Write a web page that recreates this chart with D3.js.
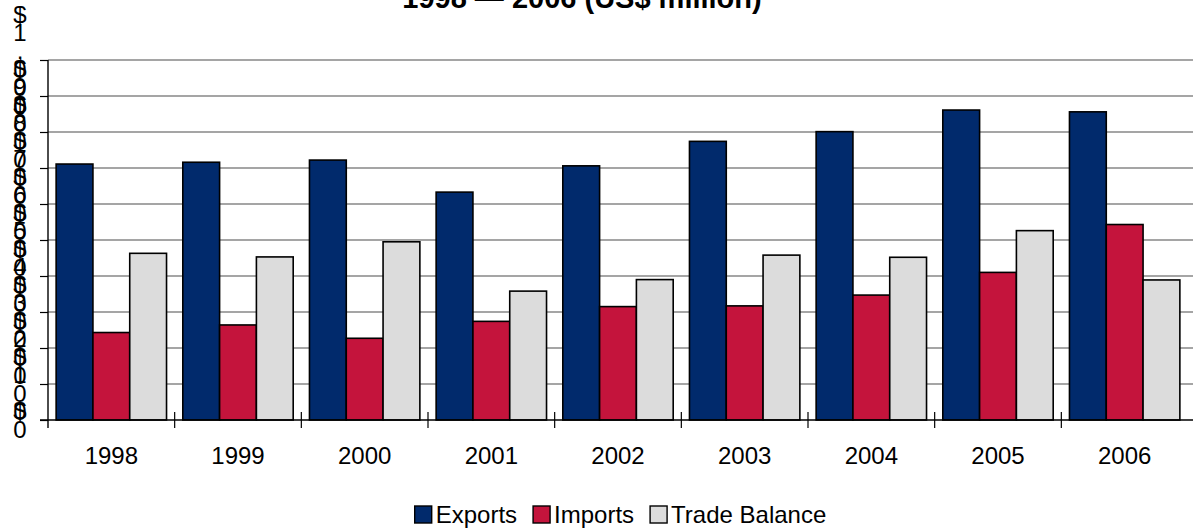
<!DOCTYPE html>
<html>
<head>
<meta charset="utf-8">
<script src="https://cdn.jsdelivr.net/npm/d3@7"></script>
<style>
  html, body { margin: 0; padding: 0; background: #fff; }
  svg { display: block; font-family: "Liberation Sans", Arial, sans-serif; }
</style>
</head>
<body>
<svg id="chart" width="1193" height="529"></svg>
<script>
// ---- data ----
const years = ["1998", "1999", "2000", "2001", "2002", "2003", "2004", "2005", "2006"];
const seriesNames = ["Exports", "Imports", "Trade Balance"];
const exportsVals = [711, 716, 722, 633, 706, 774, 801, 861, 856];
const importsVals = [243, 264, 227, 274, 315, 317, 347, 410, 543];
const balanceVals = [463, 453, 495, 358, 390, 458, 452, 526, 389];
const yTicks = [0, 100, 200, 300, 400, 500, 600, 700, 800, 900, 1000];
const yTickLabels = ["$0", "$100", "$200", "$300", "$400", "$500", "$600", "$700", "$800", "$900", "$1,000"];
const titleText = "1998 \u2014 2006 (US$ million)";

// ---- styles ----
const colors = ["#012A6C", "#C4143C", "#DCDCDC"];
const W = 1193, H = 529;
const plot = { left: 48, right: 1188, top: 60, bottom: 420 };

const svg = d3.select("#chart");
svg.append("rect").attr("width", W).attr("height", H).attr("fill", "#fff");

const x = d3.scaleBand().domain(years).range([plot.left, plot.right]).paddingInner(0).paddingOuter(0);
const xs = d3.scaleBand().domain(seriesNames).range([0, x.bandwidth()]).paddingInner(0).paddingOuter(0.221);
const y = d3.scaleLinear().domain([0, 1000]).range([plot.bottom, plot.top]);

// gridlines
svg.append("g").selectAll("line").data(yTicks.filter(d => d > 0)).join("line")
  .attr("x1", plot.left).attr("x2", W)
  .attr("y1", d => y(d)).attr("y2", d => y(d))
  .attr("stroke", "#4d4d4d").attr("stroke-width", 1.2);

// bars
const table = years.map((yr, i) => ({ year: yr, values: [exportsVals[i], importsVals[i], balanceVals[i]] }));
const groups = svg.append("g").selectAll("g").data(table).join("g")
  .attr("transform", d => `translate(${x(d.year)},0)`);
groups.selectAll("rect").data(d => d.values.map((v, k) => ({ name: seriesNames[k], v, k }))).join("rect")
  .attr("x", d => xs(d.name))
  .attr("width", xs.bandwidth())
  .attr("y", d => y(d.v))
  .attr("height", d => y(0) - y(d.v))
  .attr("fill", d => colors[d.k])
  .attr("stroke", "#000").attr("stroke-width", 1.6);

// y axis
const yAxis = d3.axisLeft(y).tickValues(yTicks).tickSize(8).tickFormat("");
const gy = svg.append("g").attr("transform", `translate(${plot.left},0)`).call(yAxis);
gy.select(".domain").attr("stroke", "#000").attr("stroke-width", 1.4).attr("d", `M0,${plot.top}V${plot.bottom + 8}`);
gy.selectAll(".tick line").attr("stroke", "#000").attr("stroke-width", 1.2);

// y tick labels: wrapped one character per line in a narrow column, as in the reference
const lineStep = 18.4;
const yl = svg.append("g").attr("font-size", 24).attr("fill", "#000");
yTicks.forEach((t, i) => {
  const chars = Array.from(yTickLabels[i]);
  const n = chars.length;
  const txt = yl.append("text").attr("text-anchor", "middle");
  chars.forEach((c, k) => {
    txt.append("tspan").attr("x", 20)
      .attr("y", y(t) - (n - 1) * lineStep / 2 + k * lineStep + 8.5)
      .text(c);
  });
});

// x axis
const gx = svg.append("g").attr("transform", `translate(0,${plot.bottom})`);
gx.append("line").attr("x1", plot.left - 8).attr("x2", W).attr("y1", 0).attr("y2", 0)
  .attr("stroke", "#000").attr("stroke-width", 1.4);
const bounds = years.slice(1).map(yr => x(yr));
gx.selectAll("line.tk").data(bounds).join("line").attr("class", "tk")
  .attr("x1", d => d).attr("x2", d => d).attr("y1", -8).attr("y2", 8)
  .attr("stroke", "#000").attr("stroke-width", 1.2);
gx.selectAll("text").data(years).join("text")
  .attr("x", d => x(d) + x.bandwidth() / 2).attr("y", 44)
  .attr("text-anchor", "middle").attr("font-size", 24).attr("fill", "#000")
  .text(d => d);

// title (its upper part lies above the picture, as in the reference)
svg.append("text").attr("x", 582).attr("y", 7.5).attr("text-anchor", "middle")
  .attr("font-size", 29).attr("font-weight", "bold").text(titleText);

// legend
const lg = svg.append("g");
const items = seriesNames.map((name, k) => {
  const g = lg.append("g");
  g.append("rect").attr("width", 17).attr("height", 17).attr("y", -17)
    .attr("fill", colors[k]).attr("stroke", "#000").attr("stroke-width", 1.4);
  const t = g.append("text").attr("x", 21).attr("y", 0).attr("font-size", 24).text(name);
  return { g, w: 21 + t.node().getComputedTextLength() };
});
const gap = 16;
const total = d3.sum(items, d => d.w) + gap * (items.length - 1);
let cx = 620.5 - total / 2;
items.forEach(it => { it.g.attr("transform", `translate(${cx},523)`); cx += it.w + gap; });
</script>
</body>
</html>
